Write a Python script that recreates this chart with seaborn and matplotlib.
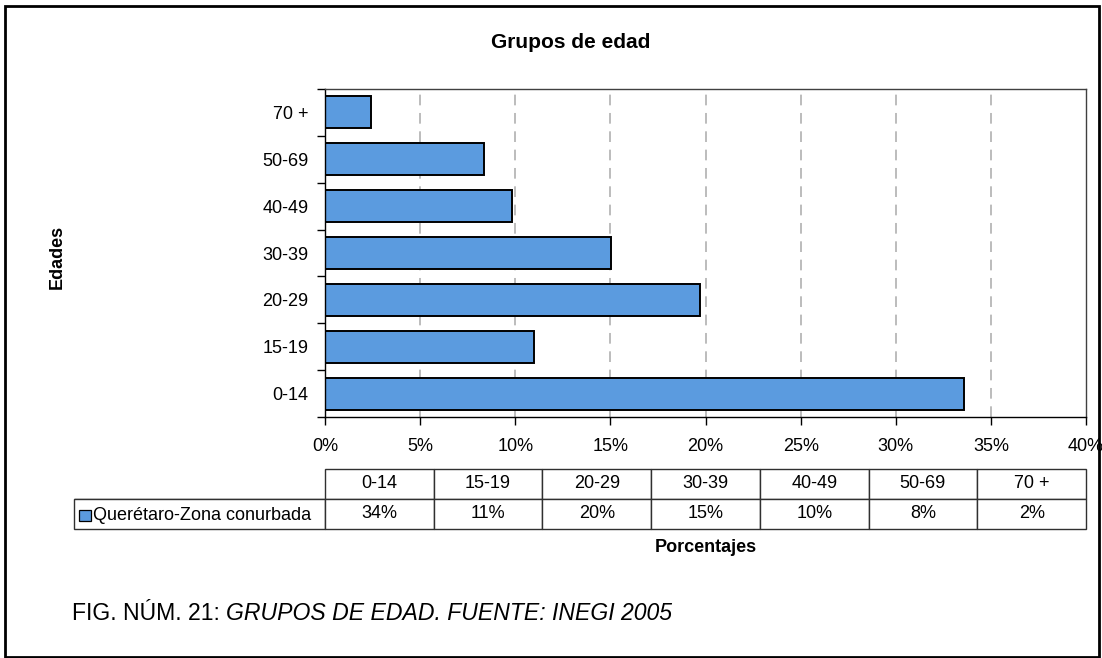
import matplotlib
matplotlib.use("Agg")
import matplotlib.pyplot as plt
from matplotlib.patches import Rectangle
from matplotlib.ticker import FixedLocator, PercentFormatter
import seaborn as sns
import pandas as pd

# datos
grupos = ["0-14", "15-19", "20-29", "30-39", "40-49", "50-69", "70 +"]
porcentajes = [33.6, 11.0, 19.7, 15.05, 9.85, 8.35, 2.4]
serie = "Querétaro-Zona conurbada"
x_ticks = [0, 5, 10, 15, 20, 25, 30, 35, 40]

sns.set_theme(style="white")
plt.rcParams["font.family"] = ["Liberation Sans", "DejaVu Sans"]
plt.rcParams["text.color"] = "black"
plt.rcParams["xtick.color"] = "black"
plt.rcParams["ytick.color"] = "black"

W, H = 1102, 658
fig = plt.figure(figsize=(W / 100, H / 100), dpi=100)

def fx(px):
    return px / W

def fy(py):
    return 1 - py / H

FS = 13

# area del grafico
ax_l, ax_r, ax_t, ax_b = 325, 1086, 89, 417
ax = fig.add_axes([fx(ax_l), fy(ax_b), fx(ax_r - ax_l), fy(ax_t) - fy(ax_b)])

df = pd.DataFrame({"grupo": grupos, "pct": porcentajes})
orden = grupos[::-1]  # 70 + arriba
sns.barplot(data=df, x="pct", y="grupo", order=orden, color="#5B9BDF",
            saturation=1, width=0.68, edgecolor="black", linewidth=1.4, ax=ax)

ax.set_xlim(0, 40)
ax.set_ylim(6.5, -0.5)
ax.xaxis.set_major_locator(FixedLocator(x_ticks))
ax.xaxis.set_major_formatter(PercentFormatter(decimals=0))
for v in x_ticks[1:-1]:
    ax.axvline(v, color="#AAAAAA", lw=1.1, ls=(0, (7, 5)), zorder=0)

ax.tick_params(axis="x", which="major", direction="out", length=6, width=1,
               color="black", labelsize=FS, pad=9, bottom=True)
ax.tick_params(axis="y", which="major", length=0, labelsize=FS, pad=12)
ax.yaxis.set_minor_locator(FixedLocator([i - 0.5 for i in range(len(grupos) + 1)]))
ax.tick_params(axis="y", which="minor", direction="out", length=6, width=1,
               color="black", left=True)
for s in ax.spines.values():
    s.set_color("#404040")
    s.set_linewidth(1.0)
ax.spines["left"].set_color("black")
ax.spines["bottom"].set_color("black")
ax.set_xlabel("")
ax.set_ylabel("")

# tabla de datos
n = len(grupos)
col_w = 1 / n
lbl_w = col_w * (ax_l - 74) / ((ax_r - ax_l) / n)
tab_top, tab_bot = 469, 529
bbox = [(74 - ax_l) / (ax_r - ax_l), (ax_b - tab_bot) / (ax_b - ax_t),
        (ax_r - 74) / (ax_r - ax_l), (tab_bot - tab_top) / (ax_b - ax_t)]
celdas = [[""] + [f"{round(v)}%" for v in porcentajes]]
tabla = ax.table(cellText=celdas, colLabels=[""] + grupos,
                 colWidths=[lbl_w] + [col_w] * n,
                 cellLoc="center", bbox=bbox)
tabla.auto_set_font_size(False)
tabla.set_fontsize(FS)
for (r, c), cell in tabla.get_celld().items():
    cell.set_edgecolor("#303030")
    cell.set_linewidth(1.0)
    cell.get_text().set_color("black")
tabla[(0, 0)].visible_edges = "B"

# leyenda dentro de la tabla
fig.patches.append(Rectangle((fx(79), fy(521)), fx(12), fy(510) - fy(521),
                             transform=fig.transFigure, facecolor="#5B9BDF",
                             edgecolor="black", lw=0.9))
fig.text(fx(93), fy(515), serie, fontsize=FS, va="center", ha="left")

# titulos
fig.text(fx(571), fy(42), "Grupos de edad", fontsize=15, fontweight="bold",
         ha="center", va="center")
fig.text(fx(57), fy(257), "Edades", fontsize=FS, fontweight="bold",
         rotation=90, ha="center", va="center")
fig.text(fx((ax_l + ax_r) / 2), fy(548), "Porcentajes", fontsize=FS,
         fontweight="bold", ha="center", va="center")

# pie de figura
t1 = fig.text(fx(72), fy(614), "FIG. NÚM. 21: ", fontsize=16.6,
              ha="left", va="center")
fig.canvas.draw()
bb = t1.get_window_extent()
fig.text(bb.x1 / W, fy(614), "GRUPOS DE EDAD. FUENTE: INEGI 2005",
         fontsize=16.6, style="italic", ha="left", va="center")

# marco exterior
fig.patches.append(Rectangle((fx(5), fy(657)), fx(1094), fy(6) - fy(657),
                             transform=fig.transFigure, fill=False,
                             edgecolor="black", lw=2.0))

fig.savefig("out.png", dpi=100)
